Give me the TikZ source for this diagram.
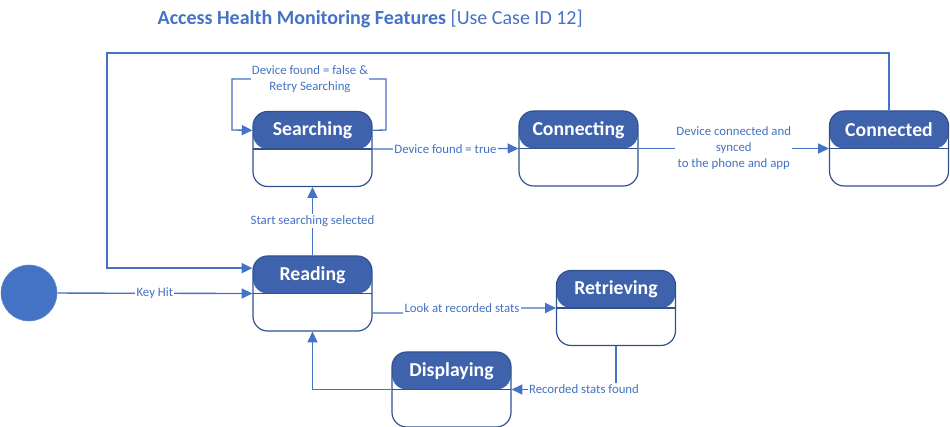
\documentclass[tikz,border=0pt]{standalone}
\usepackage{fontspec}
\setmainfont{Carlito}
\usetikzlibrary{arrows.meta,positioning}
\definecolor{StateHead}{HTML}{3F62AD}
\definecolor{StateEdge}{HTML}{2F528F}
\definecolor{FlowBlue}{HTML}{4472C4}

\tikzset{
  statebox/.style={draw=StateEdge, line width=0.9pt, fill=white, rounded corners=11pt,
    minimum width=89.25pt, minimum height=56.25pt, inner sep=0pt,
    path picture={
      \fill[StateHead] (path picture bounding box.north west) rectangle (path picture bounding box.east);
      \draw[StateEdge, line width=0.9pt] (path picture bounding box.west) -- (path picture bounding box.east);
    }},
  statename/.style={text=white, font=\bfseries\fontsize{14.8}{16}\selectfont, yshift=14pt},
  flow/.style={draw=FlowBlue, line width=1pt, -{Triangle[length=8pt,width=7.5pt]}},
  flowlbl/.style={fill=white, text=FlowBlue, font=\fontsize{9.6}{12}\selectfont, inner sep=1pt, align=center}
}

\begin{document}
\begin{tikzpicture}[x=0.75pt, y=-0.75pt]
        \useasboundingbox (0,0) rectangle (950,427);

        % title
        \node[anchor=west, text=FlowBlue, font=\fontsize{15}{17}\selectfont] (title) at (153,19)
            {\textbf{Access Health Monitoring Features} [Use Case ID 12]};

        % states
        \node[circle, fill=FlowBlue, draw=FlowBlue!85!white, minimum size=42pt, inner sep=0pt] (init) at (29,293) {};
        \node[statebox, label={[statename]center:Searching}] (srch) at (312.5,149) {};
        \node[statebox, label={[statename]center:Connecting}] (conn) at (578.5,148.5) {};
        \node[statebox, label={[statename]center:Connected}] (cnctd) at (889,148.5) {};
        \node[statebox, label={[statename]center:Reading}] (read) at (312.5,293.5) {};
        \node[statebox, label={[statename]center:Retrieving}] (retr) at (616,308) {};
        \node[statebox, label={[statename]center:Displaying}] (disp) at (451.5,389.5) {};

        % transitions
        \draw[flow] ([yshift=14pt]srch.east) -- (386,130) -- (386,79) -- (232,79) -- (232,130) -- ([yshift=14pt]srch.west);
        \node[flowlbl] (retrylbl) at (310,79) {Device found = false \&\\Retry Searching};

        \draw[flow] (srch.east) -- (conn.west) node[midway, flowlbl] {Device found = true};
        \draw[flow] (conn.east) -- (cnctd.west) node[midway, flowlbl] {Device connected and\\synced\\to the phone and app};
        \draw[flow] (cnctd.north) |- (107,53) |- ([yshift=19pt]read.west);

        \draw[flow] (init) -- (read.west) node[midway, flowlbl] {Key Hit};
        \draw[flow] (read.north) -- (srch.south) node[midway, flowlbl] {Start searching selected};

        \draw[flow] ([yshift=-14.6pt]read.east) -- (406,313) -- (406,308) -- (retr.west);
        \node[flowlbl] (looklbl) at (462,308) {Look at recorded stats};

        \draw[flow] (retr.south) |- (disp.east);
        \node[flowlbl] (foundlbl) at (584,389) {Recorded stats found};
        \draw[flow] (disp.west) -| (read.south);
    \end{tikzpicture}
\end{document}
